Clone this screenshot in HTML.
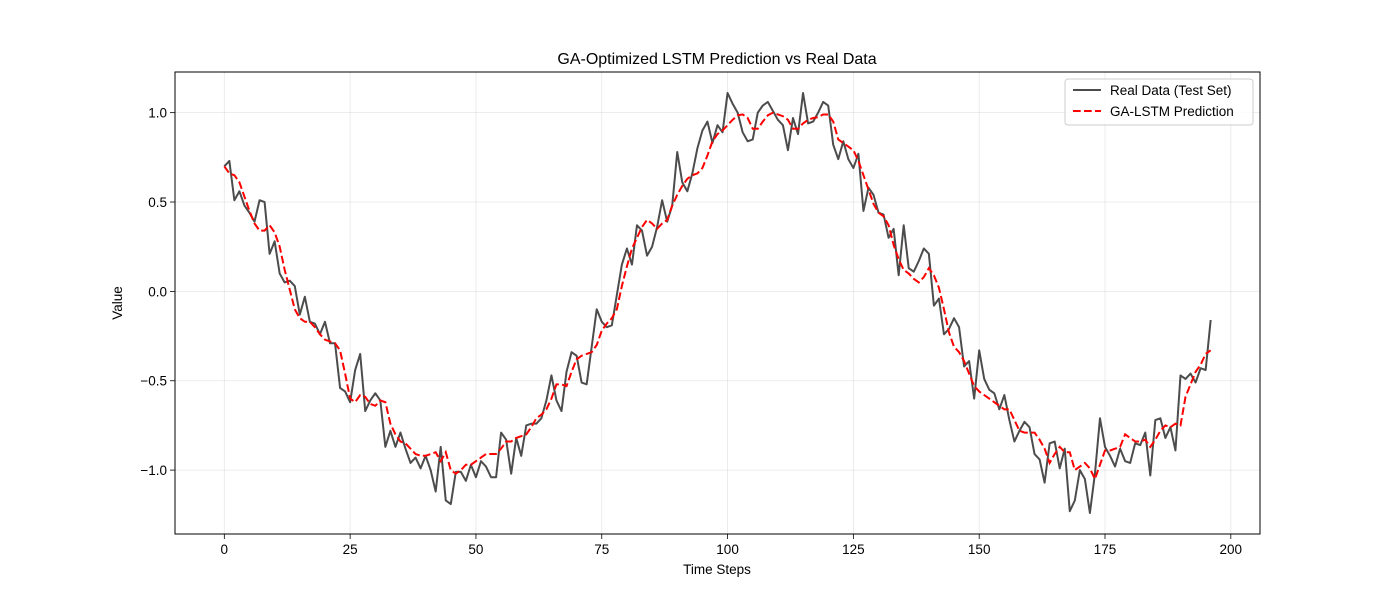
<!DOCTYPE html>
<html><head><meta charset="utf-8"><style>
body{margin:0;background:#fff;}
svg{display:block;font-family:"Liberation Sans","DejaVu Sans",sans-serif;}
</style></head><body>
<svg id="chart" width="1400" height="600" xmlns="http://www.w3.org/2000/svg">
<rect width="1400" height="600" fill="#fff"/>
<g id="grid"></g>
<g id="series"></g>
<rect x="175" y="72" width="1085" height="462" fill="none" stroke="#000" stroke-width="1"/>
<g id="ticks"></g>
<text x="717" y="64" font-size="16" text-anchor="middle">GA-Optimized LSTM Prediction vs Real Data</text>
<text x="717" y="574" font-size="13.5" text-anchor="middle">Time Steps</text>
<text x="122" y="303" font-size="13.5" text-anchor="middle" transform="rotate(-90 122 303)">Value</text>
<g>
<rect x="1065" y="79" width="188" height="46" rx="3" fill="#fff" fill-opacity="0.8" stroke="#ccc"/>
<line x1="1073" y1="90" x2="1101" y2="90" stroke="#000" stroke-opacity="0.7" stroke-width="2"/>
<text x="1110" y="95" font-size="13.5">Real Data (Test Set)</text>
<line x1="1073" y1="111" x2="1101" y2="111" stroke="#f00" stroke-width="2" stroke-dasharray="7.7,3.3"/>
<text x="1110" y="116" font-size="13.5">GA-LSTM Prediction</text>
</g>
</svg>
<script>
const realData=[0.70,0.73,0.51,0.56,0.48,0.44,0.39,0.51,0.50,0.21,
0.28,0.10,0.05,0.06,0.03,-0.13,-0.03,-0.17,-0.18,-0.24,
-0.17,-0.29,-0.29,-0.54,-0.56,-0.62,-0.44,-0.35,-0.67,-0.61,
-0.57,-0.61,-0.87,-0.78,-0.87,-0.79,-0.88,-0.96,-0.93,-0.99,
-0.92,-1.0,-1.12,-0.87,-1.17,-1.19,-1.01,-1.01,-1.06,-0.97,
-1.04,-0.95,-0.98,-1.04,-1.04,-0.79,-0.83,-1.02,-0.82,-0.92,
-0.75,-0.74,-0.74,-0.71,-0.61,-0.47,-0.61,-0.67,-0.45,-0.34,
-0.36,-0.51,-0.52,-0.31,-0.10,-0.17,-0.20,-0.19,-0.02,0.15,
0.24,0.15,0.37,0.34,0.20,0.25,0.36,0.51,0.39,0.48,
0.78,0.61,0.56,0.66,0.80,0.90,0.95,0.83,0.93,0.89,
1.11,1.05,1.0,0.89,0.84,0.85,1.00,1.04,1.06,1.01,
0.96,0.93,0.79,0.97,0.88,1.11,0.94,0.95,1.00,1.06,
1.04,0.82,0.74,0.84,0.74,0.69,0.77,0.45,0.58,0.54,
0.44,0.43,0.30,0.35,0.09,0.37,0.13,0.11,0.17,0.24,
0.21,-0.08,-0.04,-0.24,-0.21,-0.15,-0.20,-0.42,-0.39,-0.60,
-0.33,-0.49,-0.55,-0.57,-0.66,-0.58,-0.72,-0.84,-0.78,-0.73,
-0.76,-0.91,-0.94,-1.07,-0.85,-0.84,-0.99,-0.88,-1.23,-1.17,
-1.00,-1.05,-1.24,-1.02,-0.71,-0.87,-0.92,-0.98,-0.88,-0.95,
-0.96,-0.85,-0.86,-0.79,-1.03,-0.72,-0.71,-0.82,-0.76,-0.89,
-0.47,-0.49,-0.46,-0.51,-0.43,-0.44,-0.16];
const predData=[0.70,0.66,0.65,0.61,0.53,0.45,0.38,0.34,0.34,0.37,
0.33,0.25,0.12,0.01,-0.10,-0.15,-0.17,-0.17,-0.20,-0.24,
-0.27,-0.28,-0.29,-0.33,-0.46,-0.60,-0.62,-0.58,-0.59,-0.63,
-0.64,-0.61,-0.62,-0.74,-0.80,-0.84,-0.85,-0.88,-0.91,-0.92,
-0.92,-0.91,-0.90,-0.95,-0.90,-1.0,-1.02,-1.0,-0.97,-0.97,
-0.95,-0.93,-0.91,-0.91,-0.91,-0.88,-0.84,-0.84,-0.82,-0.81,
-0.80,-0.76,-0.71,-0.69,-0.66,-0.60,-0.52,-0.52,-0.53,-0.45,
-0.38,-0.36,-0.35,-0.34,-0.30,-0.22,-0.18,-0.15,-0.10,0.03,
0.14,0.24,0.30,0.36,0.40,0.38,0.35,0.38,0.40,0.48,
0.54,0.59,0.63,0.65,0.66,0.69,0.76,0.84,0.88,0.90,
0.93,0.96,0.985,0.99,0.97,0.91,0.91,0.95,0.985,1.0,
0.99,0.98,0.96,0.91,0.91,0.94,0.96,0.97,0.975,0.99,
0.99,0.95,0.85,0.83,0.81,0.79,0.73,0.65,0.57,0.49,
0.44,0.42,0.37,0.26,0.18,0.12,0.10,0.07,0.05,0.08,
0.13,0.09,0.02,-0.10,-0.23,-0.31,-0.34,-0.39,-0.46,-0.53,
-0.56,-0.58,-0.60,-0.62,-0.64,-0.66,-0.66,-0.72,-0.78,-0.79,
-0.79,-0.79,-0.83,-0.88,-0.96,-0.91,-0.87,-0.90,-0.90,-1.00,
-0.98,-0.96,-0.99,-1.05,-0.97,-0.89,-0.89,-0.88,-0.87,-0.80,
-0.82,-0.84,-0.84,-0.83,-0.87,-0.83,-0.78,-0.75,-0.76,-0.74,
-0.75,-0.59,-0.52,-0.45,-0.41,-0.35,-0.33];
const xTicks=[0,25,50,75,100,125,150,175,200];
const yTicks=[-1.0,-0.5,0.0,0.5,1.0];
const yTickLabels=["\u22121.0","\u22120.5","0.0","0.5","1.0"];

const NS="http://www.w3.org/2000/svg";
const L=175,R=1260,T=72,B=534;
const n=realData.length;
const xmin=-(n-1)*0.05,xmax=(n-1)*1.05;
const all=realData.concat(predData);
const dmin=Math.min(...all),dmax=Math.max(...all),pad=(dmax-dmin)*0.05;
const ymin=dmin-pad,ymax=dmax+pad;
const xs=v=>L+(v-xmin)/(xmax-xmin)*(R-L);
const ys=v=>B-(v-ymin)/(ymax-ymin)*(B-T);
function mk(tag,attrs,parent){const e=document.createElementNS(NS,tag);for(const k in attrs)e.setAttribute(k,attrs[k]);parent.appendChild(e);return e;}
const grid=document.getElementById('grid'),ticks=document.getElementById('ticks'),series=document.getElementById('series');
xTicks.forEach(t=>{
  const x=xs(t);
  const g=mk('line',{x1:x,x2:x,y1:T,y2:B,stroke:'#b0b0b0','stroke-opacity':0.3,'stroke-width':0.8},grid);
  
  
  const tk=mk('line',{x1:x,x2:x,y1:B,y2:B+5,stroke:'#000','stroke-width':0.8},ticks);
  
  
  const lb=mk('text',{x:x,y:B+20,'font-size':13.5,'text-anchor':'middle'},ticks);
  lb.textContent=String(t);
  
  
});
yTicks.forEach((t,i)=>{
  const y=ys(t);
  const g=mk('line',{x1:L,x2:R,y1:y,y2:y,stroke:'#b0b0b0','stroke-opacity':0.3,'stroke-width':0.8},grid);
  
  
  const tk=mk('line',{x1:L-5,x2:L,y1:y,y2:y,stroke:'#000','stroke-width':0.8},ticks);
  
  
  const lb=mk('text',{x:L-8,y:y+5,'font-size':13.5,'text-anchor':'end'},ticks);
  lb.textContent=yTickLabels[i];
  
  
});
function pts(arr){return arr.map((v,i)=>xs(i).toFixed(2)+','+ys(v).toFixed(2)).join(' ');}
const realLine=mk('polyline',{points:pts(realData),fill:'none',stroke:'#000','stroke-opacity':0.7,'stroke-width':2,'stroke-linejoin':'round'},series);


const predLine=mk('polyline',{points:pts(predData),fill:'none',stroke:'#f00','stroke-width':2,'stroke-dasharray':'7.7,3.3'},series);


</script>
</body></html>
